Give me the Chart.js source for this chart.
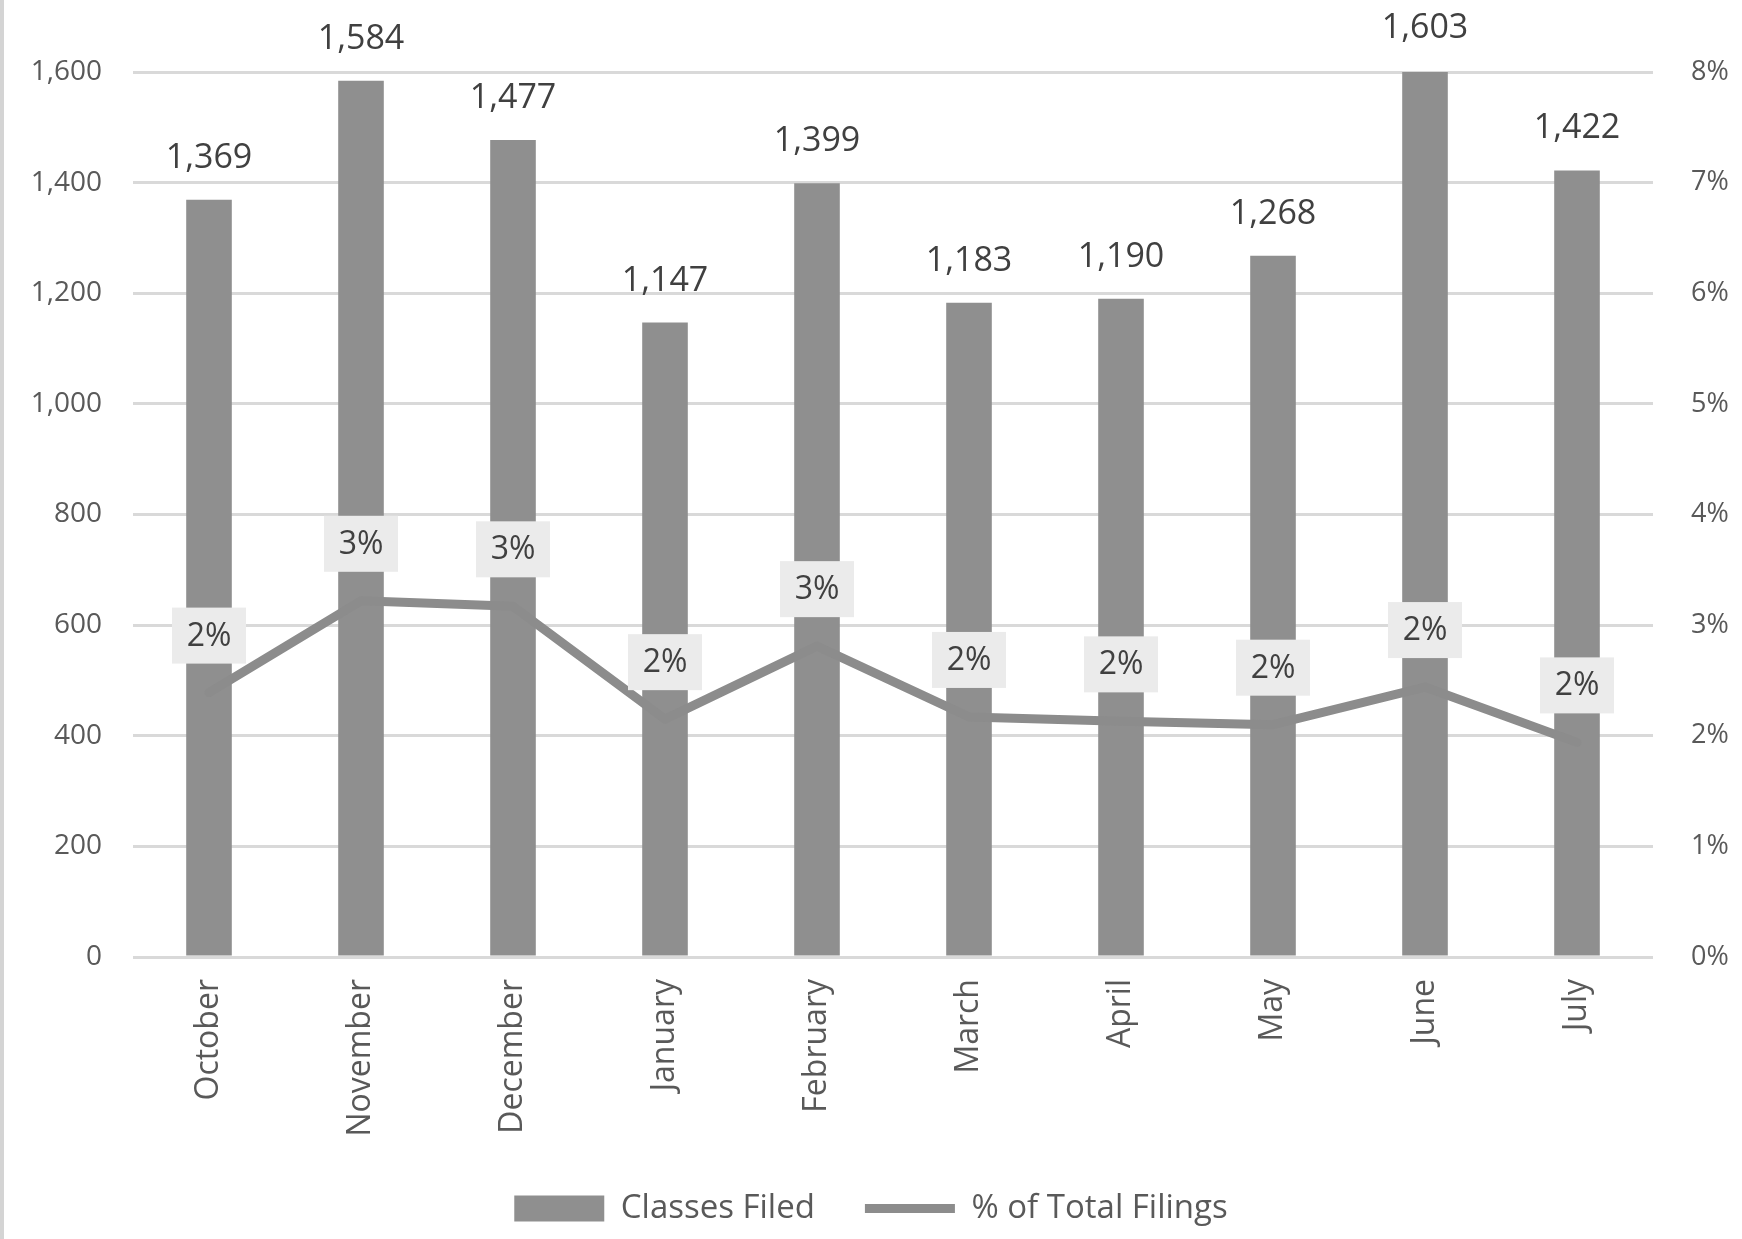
<!DOCTYPE html>
<html>
<head>
<meta charset="utf-8">
<script src="https://cdn.jsdelivr.net/npm/chart.js@4.4.1/dist/chart.umd.min.js"></script>
<style>
  html, body { margin: 0; padding: 0; background: #fff; }
  #wrap { width: 1742px; height: 1239px; position: relative; }
</style>
</head>
<body>
<div id="wrap"><canvas id="chart"></canvas></div>
<script>
const months = ['October', 'November', 'December', 'January', 'February', 'March', 'April', 'May', 'June', 'July'];
const classesFiled = [1369, 1584, 1477, 1147, 1399, 1183, 1190, 1268, 1603, 1422];
// share of total filings, in percent
const pctOfTotal = [2.39, 3.22, 3.17, 2.15, 2.81, 2.17, 2.13, 2.10, 2.44, 1.94];
const seriesNames = ['Classes Filed', '% of Total Filings'];

const textDark = '#404040';
const textGray = '#595959';
const barGray = '#8f8f8f';
const lineGray = '#8c8c8c';

Chart.defaults.font.family = '"Open Sans", "Noto Sans", sans-serif';

// white background + thin frame line on the left edge
const frame = {
  id: 'frame',
  beforeDraw(chart) {
    const ctx = chart.ctx;
    ctx.save();
    ctx.fillStyle = '#fff';
    ctx.fillRect(0, 0, chart.width, chart.height);
    ctx.fillStyle = '#d4d4d4';
    ctx.fillRect(0, 0, 4, chart.height);
    ctx.restore();
  }
};

// data labels: values above the bars, boxed percentages above the line
const valueLabels = {
  id: 'valueLabels',
  afterDatasetsDraw(chart) {
    const ctx = chart.ctx;
    ctx.save();
    ctx.textAlign = 'center';

    ctx.font = '34px "Open Sans"';
    ctx.fillStyle = textDark;
    ctx.textBaseline = 'alphabetic';
    chart.getDatasetMeta(0).data.forEach((bar, i) => {
      ctx.fillText(classesFiled[i].toLocaleString('en-US'), bar.x, bar.y - 32);
    });

    ctx.font = '32px "Open Sans"';
    ctx.textBaseline = 'middle';
    chart.getDatasetMeta(1).data.forEach((pt, i) => {
      const cy = pt.y - 57;
      ctx.fillStyle = '#ebebeb';
      ctx.fillRect(pt.x - 37, cy - 28, 74, 56);
      ctx.fillStyle = textDark;
      ctx.fillText(Math.round(pctOfTotal[i]) + '%', pt.x, cy + 1);
    });
    ctx.restore();
  }
};

new Chart(document.getElementById('chart'), {
  data: {
    labels: months,
    datasets: [
      {
        type: 'bar',
        label: seriesNames[0],
        data: classesFiled,
        yAxisID: 'y',
        backgroundColor: barGray,
        borderWidth: 0,
        barPercentage: 0.3,
        categoryPercentage: 1,
        pointStyle: 'rect',
        order: 1
      },
      {
        type: 'line',
        label: seriesNames[1],
        data: pctOfTotal,
        yAxisID: 'y1',
        borderColor: lineGray,
        backgroundColor: lineGray,
        borderWidth: 9,
        borderJoinStyle: 'round',
        borderCapStyle: 'round',
        pointRadius: 0,
        pointHoverRadius: 0,
        pointStyle: 'line',
        tension: 0,
        order: 0
      }
    ]
  },
  options: {
    responsive: true,
    maintainAspectRatio: false,
    animation: false,
    locale: 'en-US',
    layout: { padding: { top: 72, left: 0, right: 0, bottom: 4 } },
    plugins: {
      tooltip: { enabled: false },
      legend: {
        position: 'bottom',
        labels: {
          usePointStyle: true,
          pointStyleWidth: 90,
          boxHeight: 26,
          padding: 50,
          color: textGray,
          font: { size: 33 },
          sort: (a, b) => a.datasetIndex - b.datasetIndex
        }
      }
    },
    scales: {
      x: {
        grid: { display: false },
        border: { display: false },
        ticks: {
          minRotation: 90,
          maxRotation: 90,
          padding: 14,
          color: textGray,
          font: { size: 32 }
        },
        afterFit(scale) { scale.height = 185; }
      },
      y: {
        position: 'left',
        min: 0,
        max: 1600,
        ticks: { stepSize: 200, padding: 31, color: textGray, font: { size: 28 } },
        grid: { color: '#d9d9d9', lineWidth: 3, drawTicks: false },
        border: { display: false },
        afterFit(scale) { scale.width = 133; }
      },
      y1: {
        position: 'right',
        min: 0,
        max: 8,
        ticks: {
          stepSize: 1,
          padding: 30,
          color: textGray,
          font: { size: 27 },
          callback: (v) => v + '%'
        },
        grid: { display: false },
        border: { display: false },
        afterFit(scale) { scale.width = 89; }
      }
    }
  },
  plugins: [frame, valueLabels]
});
</script>
</body>
</html>
